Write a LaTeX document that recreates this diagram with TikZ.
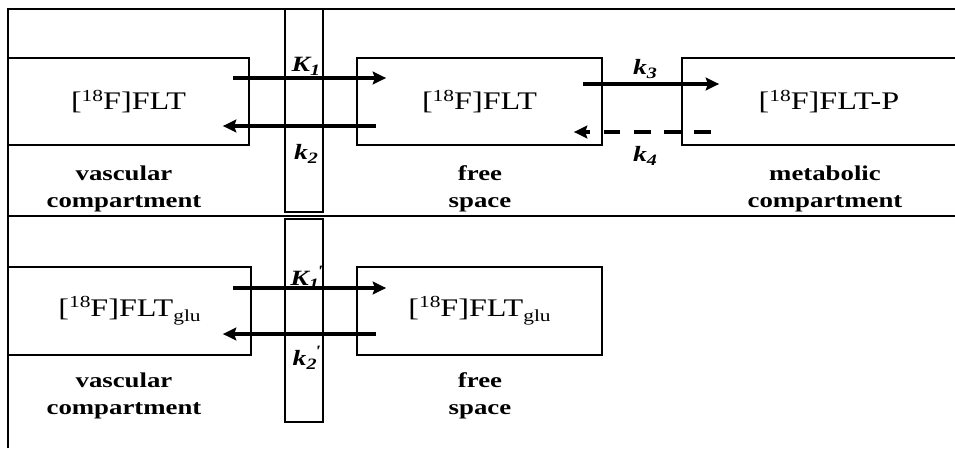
\documentclass[tikz,border=0pt]{standalone}
\usepackage{fontspec}
\setmainfont{Liberation Serif}[FakeStretch=1.27]
\usetikzlibrary{positioning,arrows.meta}

\newcommand{\up}[1]{\raisebox{0.75ex}{\fontsize{4.8}{5}\selectfont #1}}
\newcommand{\dn}[1]{\raisebox{-0.45ex}{\fontsize{4.8}{5}\selectfont #1}}
\newcommand{\rt}[2]{#1\raisebox{-0.4ex}{\fontsize{4.5}{5}\selectfont #2}}
\newcommand{\rtp}[2]{#1\raisebox{-0.4ex}{\fontsize{4.5}{5}\selectfont #2}\kern-0.08em\raisebox{0.9ex}{\fontsize{4.5}{5}\selectfont\textquotesingle}}

\begin{document}
\begin{tikzpicture}[x=0.01cm, y=-0.01cm, >={Stealth[length=3.8pt, width=3.6pt, inset=0.6pt]},
    box/.style={draw, line width=0.45pt, inner sep=0pt, minimum height=0.87cm,
        font=\fontsize{7.2}{8}\selectfont},
    bar/.style={draw, line width=0.45pt, inner sep=0pt, minimum width=0.38cm, minimum height=2.03cm},
    cmpt/.style={align=center, font=\fontsize{6}{7.7}\selectfont\bfseries},
    rate/.style={inner sep=0pt, font=\fontsize{6.2}{7}\selectfont\bfseries\itshape},
    flux/.style={line width=1.1pt}]
    \useasboundingbox (0,0) rectangle (955,448);

    % 外枠
    \draw[line width=0.45pt] (8,448) -- (8,9) -- (955,9);
    \draw[line width=0.45pt] (8,216) -- (955,216);

    % -------------------------------------------------------------
    % 上段: [18F]FLT
    % -------------------------------------------------------------
    \node[bar] (b1) at (304,110.5) {};
    \node[box, minimum width=2.41cm] (v1) at (128.5,101.5) {[\up{18}F]FLT};
    \node[box, minimum width=2.45cm] (f1) at (479.5,101.5) {[\up{18}F]FLT};
    \node[box, minimum width=2.94cm] (m1) at (829,101.5) {[\up{18}F]FLT-P};

    \node[cmpt] (cv1) at (124,189) {vascular\\compartment};
    \node[cmpt] (cf1) at (480,189) {free\\space};
    \node[cmpt] (cm1) at (825,189) {metabolic\\compartment};

    % 輸送の矢印
    \draw[flux, ->] ([shift={(-17,-23.5)}]v1.east) -- ([shift={(30,-23.5)}]f1.west);
    \draw[flux, ->] ([shift={(20,24.5)}]f1.west) -- ([shift={(-27,24.5)}]v1.east);
    \draw[flux, ->] ([shift={(-20,-17.5)}]f1.east) -- ([shift={(38,-17.5)}]m1.west);
    \draw[flux, ->, line width=1pt, dash pattern=on 4.8pt off 3.8pt]
        ([shift={(30,30.5)}]m1.west) -- ([shift={(-29,30.5)}]f1.east);

    \node[rate] (K1) at (306,66) {\rt{K}{1}};
    \node[rate] (k2) at (306,154) {\rt{k}{2}};
    \node[rate] (k3) at (645,69) {\rt{k}{3}};
    \node[rate] (k4) at (645,156) {\rt{k}{4}};

    % -------------------------------------------------------------
    % 下段: [18F]FLT_glu
    % -------------------------------------------------------------
    \node[bar] (b2) at (304,320.5) {};
    \node[box, minimum width=2.43cm, minimum height=0.88cm] (v2) at (129.5,311)
        {[\up{18}F]FLT\dn{glu}};
    \node[box, minimum width=2.45cm, minimum height=0.88cm] (f2) at (479.5,311)
        {[\up{18}F]FLT\dn{glu}};

    \node[cmpt] (cv2) at (124,396) {vascular\\compartment};
    \node[cmpt] (cf2) at (480,396) {free\\space};

    \draw[flux, ->] ([shift={(-19,-23)}]v2.east) -- ([shift={(30,-23)}]f2.west);
    \draw[flux, ->] ([shift={(20,23)}]f2.west) -- ([shift={(-29,23)}]v2.east);

    \node[rate] (K1p) at (306,278) {\rtp{K}{1}};
    \node[rate] (k2p) at (306,358) {\rtp{k}{2}};

\end{tikzpicture}
\end{document}
